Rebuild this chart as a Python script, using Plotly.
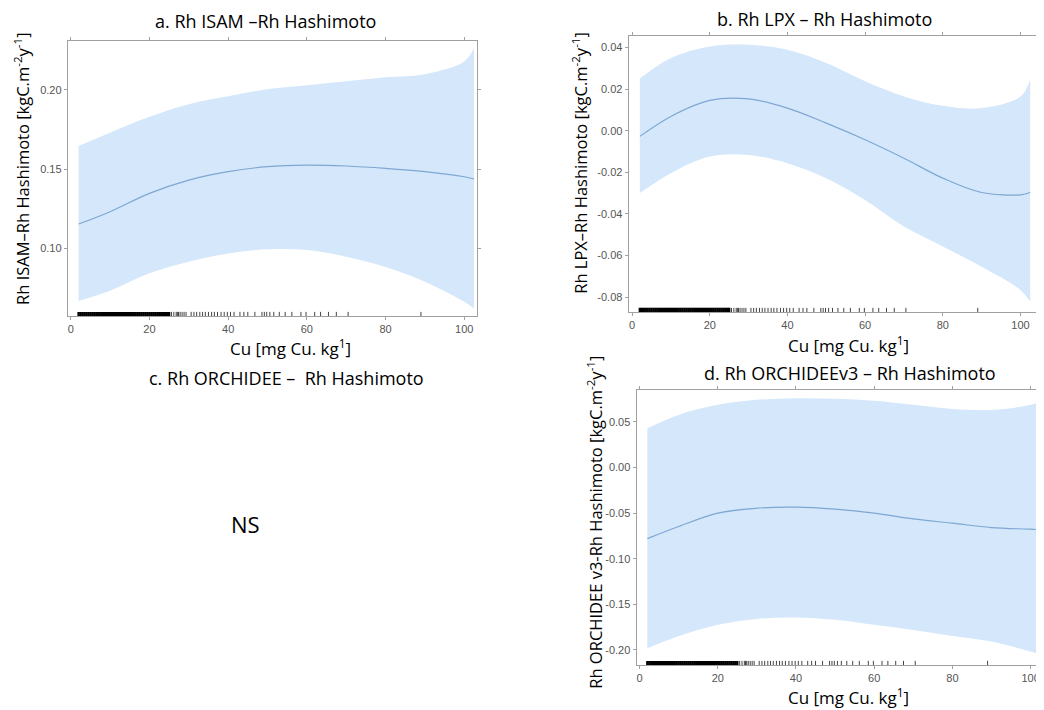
import plotly.graph_objects as go

# page body adds an 8px margin; the figure is laid out in window pixels minus this offset
OFF = 8
W, H = 1044 - OFF, 710 - OFF

# ---------------- data ----------------
cu_grid = [2, 10, 20, 30, 40, 50, 60, 70, 80, 90, 100, 102.5]

a_fit = [0.1152, 0.123, 0.1346, 0.143, 0.1483, 0.1515, 0.1525, 0.1519, 0.1504, 0.1483, 0.1451, 0.1437]
a_upper = [0.1646, 0.173, 0.183, 0.191, 0.196, 0.2005, 0.203, 0.2055, 0.208, 0.210, 0.218, 0.2265]
a_lower = [0.0665, 0.073, 0.084, 0.0913, 0.0966, 0.0992, 0.0987, 0.0945, 0.088, 0.0787, 0.066, 0.0618]

b_fit = [-0.0027, 0.0069, 0.0146, 0.0153, 0.0109, 0.0037, -0.0043, -0.0132, -0.0228, -0.0297, -0.0308, -0.0297]
b_upper = [0.0251, 0.035, 0.0406, 0.0414, 0.039, 0.0326, 0.0238, 0.0165, 0.012, 0.0109, 0.0165, 0.0246]
b_lower = [-0.030, -0.0204, -0.0124, -0.0116, -0.0156, -0.0228, -0.0333, -0.0461, -0.0557, -0.0654, -0.0766, -0.0822]

d_fit = [-0.078, -0.0647, -0.050, -0.0446, -0.0435, -0.0457, -0.050, -0.0563, -0.061, -0.0658, -0.0676, -0.0683]
d_upper = [0.0431, 0.0577, 0.0687, 0.0742, 0.076, 0.0753, 0.0731, 0.0687, 0.0643, 0.0632, 0.0687, 0.0724]
d_lower = [-0.198, -0.185, -0.1725, -0.166, -0.1645, -0.167, -0.1725, -0.178, -0.1846, -0.1908, -0.2018, -0.2054]

rug_cu = [2.0, 2.5, 3.0, 3.5, 4.0, 4.5, 5.0, 5.5, 6.0, 6.5, 7.0, 7.5, 8.0, 8.5, 9.0, 9.5,
          10.0, 10.5, 11.0, 11.5, 12.0, 12.5, 13.0, 13.5, 14.0, 14.5, 15.0, 15.5, 16.0, 16.5,
          17.0, 17.5, 18.0, 18.5, 19.0, 19.5, 20.0, 20.5, 21.0, 21.5, 22.0, 22.5, 23.0, 23.5,
          24.0, 24.5, 25.0, 25.6, 26.2, 26.8, 27.1, 27.4, 27.8, 28.3, 28.8, 29.3, 30.6, 31.3,
          32.0, 32.8, 33.5, 34.2, 35.0, 35.8, 36.5, 37.3, 38.2, 39.0, 39.8, 40.6, 41.5, 43.0,
          44.0, 45.0, 46.8, 48.6, 49.2, 49.8, 50.6, 51.6, 53.0, 54.5, 56.2, 58.5, 59.8, 62.0,
          63.5, 65.5, 67.5, 70.5, 89.0]

x_ticks = [0, 20, 40, 60, 80, 100]
x_ticktext = ["0", "20", "40", "60", "80", "100"]
a_yticks = [0.10, 0.15, 0.20]
a_yticktext = ["0.10", "0.15", "0.20"]
b_yticks = [0.04, 0.02, 0.00, -0.02, -0.04, -0.06, -0.08]
b_yticktext = ["0.04", "0.02", "0.00", "-0.02", "-0.04", "-0.06", "-0.08"]
d_yticks = [0.05, 0.00, -0.05, -0.10, -0.15, -0.20]
d_yticktext = ["0.05", "0.00", "-0.05", "-0.10", "-0.15", "-0.20"]

titles = ["a. Rh ISAM \u2013Rh Hashimoto", "b. Rh LPX \u2013 Rh Hashimoto",
          "c. Rh ORCHIDEE \u2013  Rh Hashimoto", "d. Rh ORCHIDEEv3 \u2013 Rh Hashimoto"]
unit = " [kgC.m<sup>-2</sup>y<sup>-1</sup>]"
ytitles = ["Rh ISAM\u2013Rh Hashimoto" + unit, "Rh LPX\u2013Rh Hashimoto" + unit,
           "Rh ORCHIDEE v3-Rh Hashimoto" + unit]
xtitle = "Cu [mg Cu. kg<sup>1</sup>]"

# ---------------- layout geometry (window pixels) ----------------
panels = [
    dict(fit=a_fit, up=a_upper, lo=a_lower, xd=(68, 479), yd=(41, 316),
         xr=(-0.76, 103.3), yr=(0.057, 0.231), yt=a_yticks, ytt=a_yticktext),
    dict(fit=b_fit, up=b_upper, lo=b_lower, xd=(631, 1040), yd=(36, 312),
         xr=(-0.9, 104.0), yr=(-0.0872, 0.0456), yt=b_yticks, ytt=b_yticktext),
    dict(fit=d_fit, up=d_upper, lo=d_lower, xd=(639, 1044), yd=(390, 665),
         xr=(-0.76, 102.4), yr=(-0.2165, 0.085), yt=d_yticks, ytt=d_yticktext),
]

def px(X):
    return (X - OFF) / W

def py(Y):
    return 1 - (Y - OFF) / H

BAND = "#d5e7fa"
LINE = "#7ea7d3"
FRAME = "#a0a0a0"
TICKFONT = dict(family="Liberation Sans, Arial", size=11, color="#555555")
TXTFONT = "Open Sans"

fig = go.Figure()
layout = dict(width=W, height=H, margin=dict(l=0, r=0, t=0, b=0),
              paper_bgcolor="white", plot_bgcolor="white", showlegend=False)

for i, p in enumerate(panels):
    n = "" if i == 0 else str(i + 1)
    xa, ya = "x" + n, "y" + n
    fig.add_trace(go.Scatter(x=cu_grid, y=p["lo"], mode="lines", line=dict(width=0, shape="spline"),
                             xaxis=xa, yaxis=ya, hoverinfo="skip"))
    fig.add_trace(go.Scatter(x=cu_grid, y=p["up"], mode="lines", line=dict(width=0, shape="spline"),
                             fill="tonexty", fillcolor=BAND, xaxis=xa, yaxis=ya, hoverinfo="skip"))
    fig.add_trace(go.Scatter(x=cu_grid, y=p["fit"], mode="lines",
                             line=dict(width=1.2, color=LINE, shape="spline"), xaxis=xa, yaxis=ya))
    # rug (dense part drawn thicker so it reads as a solid bar, like the reference)
    y0 = p["yr"][0]
    y1 = y0 + (p["yr"][1] - p["yr"][0]) * 0.015
    for dense in (True, False):
        rx, ry = [], []
        for v in rug_cu:
            if (v <= 25) == dense:
                rx += [v, v, None]
                ry += [y0, y1, None]
        fig.add_trace(go.Scatter(x=rx, y=ry, mode="lines",
                                 line=dict(width=2.4 if dense else 1, color="black" if dense else "#444444"),
                                 xaxis=xa, yaxis=ya, hoverinfo="skip"))

    common = dict(showline=True, linecolor=FRAME, linewidth=1, mirror="ticks", ticks="outside",
                  ticklen=3, tickcolor=FRAME, showgrid=False, zeroline=False, tickfont=TICKFONT)
    layout["xaxis" + n] = dict(domain=[px(p["xd"][0]), min(1.0, px(p["xd"][1]))], range=list(p["xr"]),
                               anchor=ya, tickmode="array", tickvals=x_ticks, ticktext=x_ticktext, **common)
    layout["yaxis" + n] = dict(domain=[py(p["yd"][1]), py(p["yd"][0])], range=list(p["yr"]),
                               anchor=xa, tickmode="array", tickvals=p["yt"], ticktext=p["ytt"], **common)

def ann(text, x, y, size=15, angle=0):
    return dict(text=text, x=px(x), y=py(y), xref="paper", yref="paper", showarrow=False,
                xanchor="center", yanchor="middle", textangle=angle,
                font=dict(family=TXTFONT, size=size, color="black"))

annotations = [
    ann(titles[0], 266, 21, 18),
    ann(titles[1], 828, 19, 18),
    ann(titles[2], 288, 378, 18),
    ann(titles[3], 853, 373, 18),
    ann("NS", 246, 524, 22),
    ann(xtitle, 292, 347, 17),
    ann(xtitle, 852, 344, 17),
    ann(xtitle, 852, 696, 17),
    ann(ytitles[0], 22, 168, 16.5, -90),
    ann(ytitles[1], 582, 163, 16.5, -90),
    ann(ytitles[2], 597, 522, 16.5, -90),
]
layout["annotations"] = annotations
fig.update_layout(**layout)
fig.write_html("out.html")
